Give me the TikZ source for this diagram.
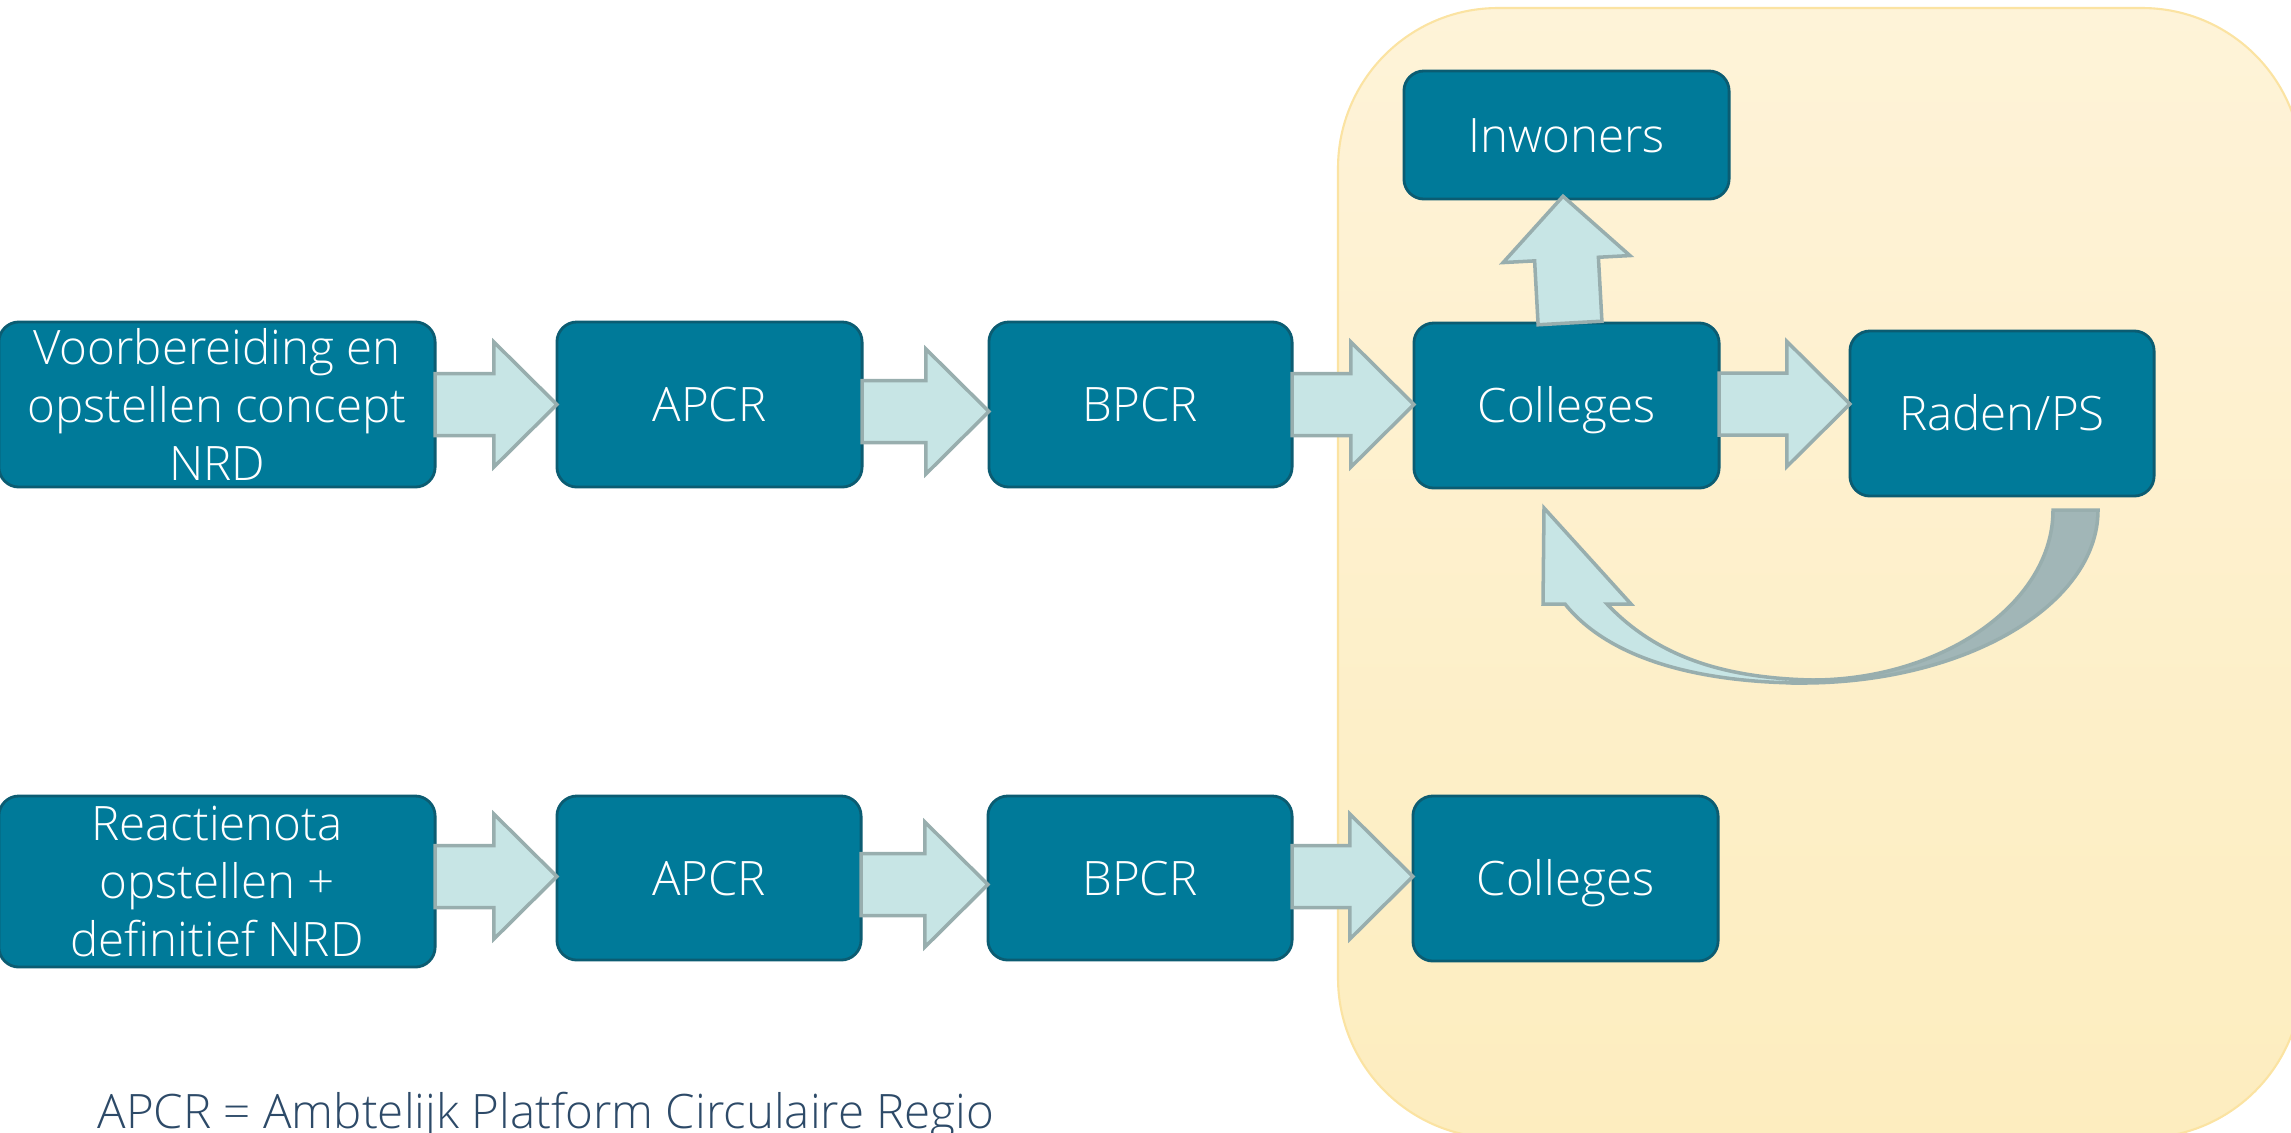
\documentclass[tikz,border=0pt]{standalone}
\usepackage{fontspec}
\setmainfont{Open Sans Light}
\usetikzlibrary{calc}
\definecolor{boxfill}{HTML}{007A99}
\definecolor{boxline}{HTML}{0B5C72}
\definecolor{arrfill}{HTML}{C7E5E5}
\definecolor{arrline}{HTML}{98AEAE}
\definecolor{backarr}{HTML}{A1B6B7}
\definecolor{paneltop}{HTML}{FEF3D8}
\definecolor{panelbot}{HTML}{FDEDBF}
\definecolor{panelline}{HTML}{FBE3A2}
\definecolor{notetext}{HTML}{2D4A68}
\tikzset{
  box/.style={draw=boxline, line width=0.8pt, fill=boxfill, rounded corners=0.2cm,
    text=white, font=\fontsize{13.5}{16.5}\selectfont, inner sep=0pt, outer sep=0pt, align=center},
  one/.style={text height=0.34cm, text depth=0pt},
  blockarr/.style={draw=arrline, fill=arrfill, line width=1pt, line join=miter},
}
\newcommand{\blockarrow}[3]{%
  \draw[blockarr] ($(#1.east |- 0,#3)+(0,-31)$) -- ($(#2.west |- 0,#3)+(-63,-31)$)
    -- ++(0,-31.5) -- (#2.west |- 0,#3) -- ++(-63,62.5) -- ++(0,-31.5)
    -- ($(#1.east |- 0,#3)+(0,31)$) -- cycle;}
\begin{document}
\begin{tikzpicture}[x=0.01cm,y=-0.01cm]
\useasboundingbox (0,0) rectangle (2291,1132);
% panel
\shade[top color=paneltop, bottom color=panelbot, rounded corners=1.6cm] (1338,8) rectangle (2302,1138);
\draw[panelline, line width=0.6pt, rounded corners=1.6cm] (1338,8) rectangle (2302,1138);
% row 1
\node[box, minimum width=4.36cm, minimum height=1.65cm] (voor) at (217,404.5) {Voorbereiding en\\opstellen concept\\NRD};
\node[box, one, minimum width=3.05cm, minimum height=1.65cm] (apcr1) at (709.5,404.5) {APCR};
\node[box, one, minimum width=3.03cm, minimum height=1.65cm] (bpcr1) at (1140.5,404.5) {BPCR};
\node[box, one, minimum width=3.05cm, minimum height=1.65cm] (coll1) at (1566.5,405.5) {Colleges};
\node[box, one, minimum width=3.04cm, minimum height=1.65cm] (raden) at (2002,413.5) {Raden/PS};
\node[box, one, minimum width=3.25cm, minimum height=1.28cm] (inw) at (1566.5,135) {Inwoners};
% row 2
\node[box, minimum width=4.36cm, minimum height=1.71cm] (reac) at (217,881.5) {Reactienota\\opstellen +\\definitief NRD};
\node[box, one, minimum width=3.04cm, minimum height=1.64cm] (apcr2) at (709,878) {APCR};
\node[box, one, minimum width=3.04cm, minimum height=1.64cm] (bpcr2) at (1140,878) {BPCR};
\node[box, one, minimum width=3.05cm, minimum height=1.65cm] (coll2) at (1565.5,878.5) {Colleges};
% arrows
\blockarrow{voor}{apcr1}{404.5}
\blockarrow{apcr1}{bpcr1}{411.5}
\blockarrow{bpcr1}{coll1}{404.5}
\blockarrow{coll1}{raden}{404}
\blockarrow{reac}{apcr2}{876.5}
\blockarrow{apcr2}{bpcr2}{884.5}
\blockarrow{bpcr2}{coll2}{876.5}
% up arrow
\begin{scope}[shift={(coll1.north)}]
\draw[blockarr] (-28.4,1.8) -- (35.4,-1.8) -- (31.9,-65.7) -- (63.4,-67.4) -- (-3.5,-126.7) -- (-63.4,-60.4) -- (-31.9,-62.1) -- cycle;
\end{scope}
% curved return arrow
\draw[fill=backarr, draw=arrline, line width=1pt] (2053,510) -- (2098,510) .. controls (2098,605) and (1965,683) .. (1802,683) -- (1812,680) .. controls (1941,680) and (2053,604) .. (2053,510) -- cycle;
\draw[blockarr] (1544,508) -- (1631,604) -- (1607,604) .. controls (1660,660) and (1730,678) .. (1812,680) -- (1800,683) .. controls (1700,682) and (1610,660) .. (1565,604) -- (1543,604) -- cycle;
% note
\node[anchor=base west, text=notetext, font=\fontsize{13.5}{16}\selectfont, inner sep=0pt] (note) at (97,1128) {APCR = Ambtelijk Platform Circulaire Regio};
\end{tikzpicture}
\end{document}
